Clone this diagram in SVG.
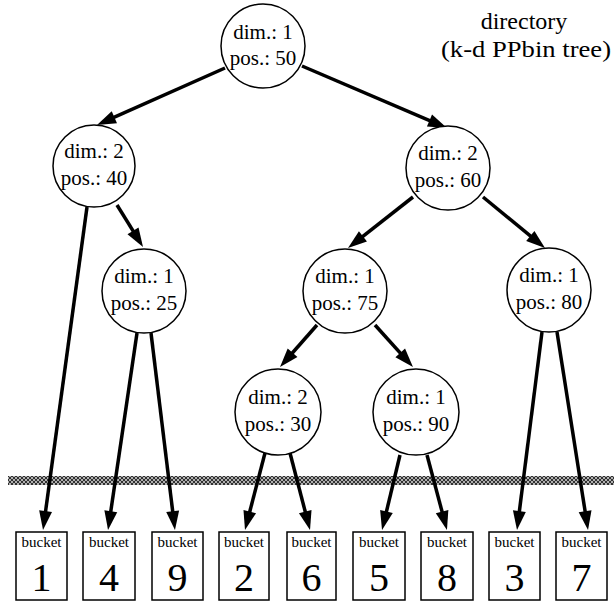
<svg xmlns="http://www.w3.org/2000/svg" width="614" height="604" viewBox="0 0 614 604">
<style>
.n circle{fill:#fff;stroke:#000;stroke-width:1.5}
.n text{font-family:"Liberation Serif","Times New Roman",serif;font-size:21px;text-anchor:middle;fill:#000}
.b rect{fill:#fff;stroke:#000;stroke-width:1.5}
.b .s{font-family:"Liberation Serif","Times New Roman",serif;font-size:15px;text-anchor:middle}
.b .d{font-family:"Liberation Serif","Times New Roman",serif;font-size:40px;text-anchor:middle}
.lbl{font-family:"Liberation Serif","Times New Roman",serif;font-size:24px;text-anchor:middle}
#connectors line{stroke:#000;stroke-width:3.5;marker-end:url(#ah)}
</style>
<defs>
<marker id="ah" markerUnits="userSpaceOnUse" markerWidth="19" markerHeight="13" refX="11" refY="6.5" orient="auto" overflow="visible">
<path d="M0,0 L19,6.5 L0,13 z" fill="#000"/>
</marker>
<pattern id="hatch" patternUnits="userSpaceOnUse" width="4" height="4">
<rect width="4" height="4" fill="#b0b0b0"/>
<path d="M0,0 L4,4 M4,0 L0,4" stroke="#222" stroke-width="0.9"/>
</pattern>
</defs>

<rect id="boundary" x="8" y="476" width="606" height="9" fill="url(#hatch)"/>

<g id="label">
<text class="lbl" x="524" y="29">directory</text>
<text class="lbl" x="526" y="57" textLength="170" lengthAdjust="spacingAndGlyphs">(k-d PPbin tree)</text>
</g>

<g id="connectors">
<line x1="225" y1="68" x2="104.3" y2="121.7"/>
<line x1="302" y1="66" x2="439.6" y2="124.9"/>
<line x1="117" y1="205" x2="138.8" y2="240.2"/>
<line x1="413" y1="197" x2="354.3" y2="243.1"/>
<line x1="483" y1="197" x2="538.8" y2="242.9"/>
<line x1="317" y1="325" x2="285.3" y2="361"/>
<line x1="375" y1="325" x2="407.6" y2="361.1"/>
<line x1="87" y1="207" x2="44.1" y2="522.1"/>
<line x1="137" y1="333" x2="109.2" y2="522.1"/>
<line x1="151" y1="333" x2="174" y2="522.1"/>
<line x1="265" y1="453" x2="247" y2="522.3"/>
<line x1="290" y1="453" x2="308" y2="522.3"/>
<line x1="400" y1="455" x2="383.9" y2="522.2"/>
<line x1="427" y1="455" x2="444.9" y2="522.3"/>
<line x1="542" y1="332" x2="518" y2="522.1"/>
<line x1="557" y1="332" x2="586.8" y2="522.1"/>
</g>

<g id="n-root" class="n"><circle cx="263" cy="46" r="42"/><text x="263" y="39">dim.: 1</text><text x="263" y="65">pos.: 50</text></g>
<g id="n-l" class="n"><circle cx="94" cy="166" r="41"/><text x="94" y="158">dim.: 2</text><text x="94" y="185">pos.: 40</text></g>
<g id="n-r" class="n"><circle cx="448" cy="168" r="42"/><text x="448" y="160">dim.: 2</text><text x="448" y="187">pos.: 60</text></g>
<g id="n-lr" class="n"><circle cx="144" cy="291" r="42"/><text x="144" y="283">dim.: 1</text><text x="144" y="310">pos.: 25</text></g>
<g id="n-rl" class="n"><circle cx="345" cy="291" r="42"/><text x="345" y="283">dim.: 1</text><text x="345" y="310">pos.: 75</text></g>
<g id="n-rr" class="n"><circle cx="549" cy="290" r="42"/><text x="549" y="282">dim.: 1</text><text x="549" y="309">pos.: 80</text></g>
<g id="n-rll" class="n"><circle cx="278" cy="412" r="43"/><text x="278" y="404">dim.: 2</text><text x="278" y="431">pos.: 30</text></g>
<g id="n-rlr" class="n"><circle cx="416" cy="412" r="43"/><text x="416" y="404">dim.: 1</text><text x="416" y="431">pos.: 90</text></g>

<g id="b1" class="b"><rect x="16" y="532" width="51" height="68"/><text class="s" x="41.5" y="547">bucket</text><text class="d" x="41.5" y="591">1</text></g>
<g id="b4" class="b"><rect x="83" y="532" width="52" height="68"/><text class="s" x="109" y="547">bucket</text><text class="d" x="109" y="591">4</text></g>
<g id="b9" class="b"><rect x="152" y="532" width="51" height="68"/><text class="s" x="177.5" y="547">bucket</text><text class="d" x="177.5" y="591">9</text></g>
<g id="b2" class="b"><rect x="219" y="532" width="50" height="68"/><text class="s" x="244" y="547">bucket</text><text class="d" x="244" y="591">2</text></g>
<g id="b6" class="b"><rect x="287" y="532" width="49" height="68"/><text class="s" x="311.5" y="547">bucket</text><text class="d" x="311.5" y="591">6</text></g>
<g id="b5" class="b"><rect x="353" y="532" width="52" height="68"/><text class="s" x="379" y="547">bucket</text><text class="d" x="379" y="591">5</text></g>
<g id="b8" class="b"><rect x="421" y="532" width="52" height="68"/><text class="s" x="447" y="547">bucket</text><text class="d" x="447" y="591">8</text></g>
<g id="b3" class="b"><rect x="489" y="532" width="51" height="68"/><text class="s" x="514.5" y="547">bucket</text><text class="d" x="514.5" y="591">3</text></g>
<g id="b7" class="b"><rect x="556" y="532" width="51" height="68"/><text class="s" x="581.5" y="547">bucket</text><text class="d" x="581.5" y="591">7</text></g>
</svg>
